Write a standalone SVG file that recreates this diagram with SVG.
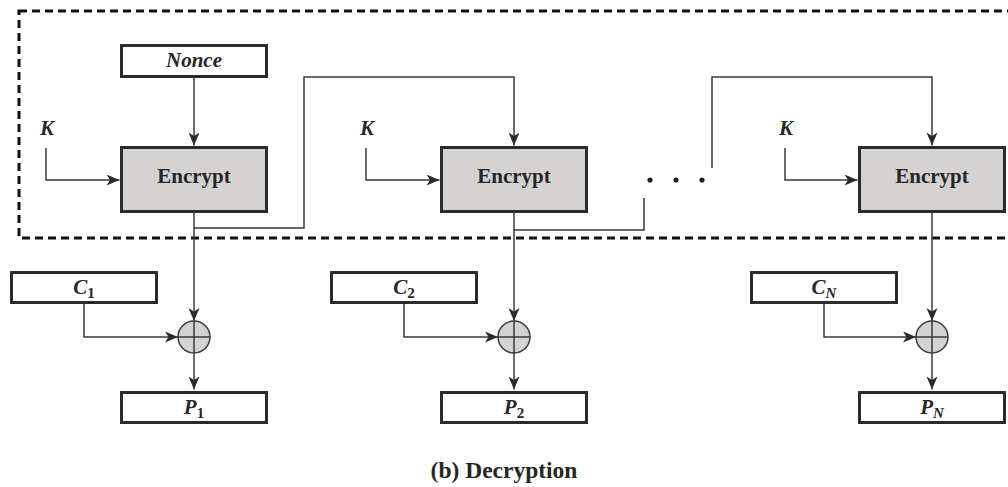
<svg xmlns="http://www.w3.org/2000/svg" width="1008" height="487" viewBox="0 0 1008 487">
<style>
.box{fill:#fff;stroke:#2b2b2b;stroke-width:3}
.enc{fill:#d4d3d1;stroke:#2b2b2b;stroke-width:3}
.xor{fill:#d4d3d1;stroke:#3a3a3a;stroke-width:1.5}
.ln{fill:none;stroke:#3a3a3a;stroke-width:1.5}
.arr{fill:none;stroke:#3a3a3a;stroke-width:1.5;marker-end:url(#ah)}
.t{font-family:"Liberation Serif","Times New Roman",serif;font-weight:bold;fill:#262626;text-anchor:middle}
.v{font-style:italic}
.sub{font-size:15px}
</style>
<defs>
<marker id="ah" markerUnits="userSpaceOnUse" markerWidth="14" markerHeight="12" refX="13" refY="5.5" orient="auto">
<path d="M0,0 L13,5.5 L0,11 L3.5,5.5 z" fill="#2b2b2b"/>
</marker>
</defs>
<rect x="19" y="11" width="1010" height="227" fill="none" stroke="#111" stroke-width="3" stroke-dasharray="8 5"/>
<g id="connectors">
<path class="arr" d="M194,78 V145.5"/>
<path class="arr" d="M46,148 V180 H119.5"/>
<path class="arr" d="M366,148 V180 H439.5"/>
<path class="arr" d="M785,148 V180 H857.5"/>
<path class="arr" d="M194,228 H304 V77 H514 V145.5"/>
<path class="ln" d="M514,230 H644 V198"/>
<path class="arr" d="M712,168 V77 H932 V145.5"/>
<path class="arr" d="M194,213 V321"/>
<path class="arr" d="M514,213 V321"/>
<path class="arr" d="M932,213 V321"/>
<path class="arr" d="M84,304 V337 H178"/>
<path class="arr" d="M404,304 V337 H498"/>
<path class="arr" d="M824,304 V337 H916"/>
<path class="arr" d="M194,353 V389.5"/>
<path class="arr" d="M514,353 V389.5"/>
<path class="arr" d="M932,353 V389.5"/>
</g>
<g id="dots" fill="#222">
<circle cx="650" cy="180" r="2.6"/>
<circle cx="676" cy="180" r="2.6"/>
<circle cx="702" cy="180" r="2.6"/>
</g>
<g id="nonce"><rect class="box" x="121.5" y="45.5" width="145" height="31"/><text class="t v" x="194" y="67" font-size="21">Nonce</text></g>
<g id="k1"><text class="t v" x="47" y="135" font-size="21">K</text></g>
<g id="k2"><text class="t v" x="367" y="135" font-size="21">K</text></g>
<g id="k3"><text class="t v" x="786" y="135" font-size="21">K</text></g>
<g id="enc1"><rect class="enc" x="121.5" y="147.5" width="145" height="64"/><text class="t" x="194" y="183" font-size="21">Encrypt</text></g>
<g id="enc2"><rect class="enc" x="441.5" y="147.5" width="145" height="64"/><text class="t" x="514" y="183" font-size="21">Encrypt</text></g>
<g id="enc3"><rect class="enc" x="859.5" y="147.5" width="145" height="64"/><text class="t" x="932" y="183" font-size="21">Encrypt</text></g>
<g id="c1"><rect class="box" x="11.5" y="272.5" width="145" height="30"/><text class="t" x="84" y="294" font-size="21"><tspan class="v">C</tspan><tspan class="sub" dy="4">1</tspan></text></g>
<g id="c2"><rect class="box" x="331.5" y="272.5" width="145" height="30"/><text class="t" x="404" y="294" font-size="21"><tspan class="v">C</tspan><tspan class="sub" dy="4">2</tspan></text></g>
<g id="cn"><rect class="box" x="751.5" y="272.5" width="145" height="30"/><text class="t" x="824" y="294" font-size="21"><tspan class="v">C</tspan><tspan class="sub v" dy="4">N</tspan></text></g>
<g id="xor1"><circle class="xor" cx="194" cy="337" r="16"/><path class="ln" d="M178,337 H210 M194,321 V353"/></g>
<g id="xor2"><circle class="xor" cx="514" cy="337" r="16"/><path class="ln" d="M498,337 H530 M514,321 V353"/></g>
<g id="xor3"><circle class="xor" cx="932" cy="337" r="16"/><path class="ln" d="M916,337 H948 M932,321 V353"/></g>
<g id="p1"><rect class="box" x="121.5" y="392.5" width="145" height="30"/><text class="t" x="194" y="414" font-size="21"><tspan class="v">P</tspan><tspan class="sub" dy="4">1</tspan></text></g>
<g id="p2"><rect class="box" x="441.5" y="392.5" width="145" height="30"/><text class="t" x="514" y="414" font-size="21"><tspan class="v">P</tspan><tspan class="sub" dy="4">2</tspan></text></g>
<g id="pn"><rect class="box" x="859.5" y="392.5" width="145" height="30"/><text class="t" x="932" y="414" font-size="21"><tspan class="v">P</tspan><tspan class="sub v" dy="4">N</tspan></text></g>
<text class="t" x="504" y="478" font-size="23.5">(b) Decryption</text>
</svg>
